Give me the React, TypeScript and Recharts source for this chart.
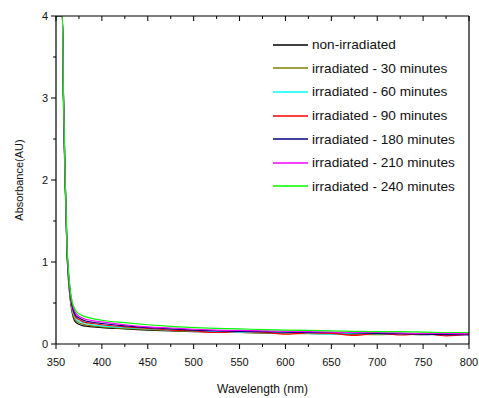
import { LineChart, Line, XAxis, YAxis } from "recharts"

const wavelength = [350, 357, 358, 360, 362, 364, 366, 368, 370, 372, 375, 380, 390, 400, 425, 450, 475, 500, 525, 550, 575, 600, 625, 650, 675, 700, 725, 750, 775, 800]

const nonIrradiated = [4, 4, 3.05, 1.95, 1.1, 0.72, 0.5, 0.36, 0.29, 0.26, 0.24, 0.22, 0.21, 0.2, 0.185, 0.17, 0.16, 0.15, 0.145, 0.14, 0.135, 0.13, 0.13, 0.125, 0.12, 0.12, 0.12, 0.115, 0.12, 0.12]
const irr30 = [4, 4, 3.1, 2.0, 1.12, 0.74, 0.52, 0.38, 0.31, 0.28, 0.26, 0.24, 0.22, 0.21, 0.19, 0.175, 0.165, 0.155, 0.15, 0.14, 0.135, 0.13, 0.125, 0.13, 0.12, 0.115, 0.12, 0.12, 0.11, 0.12]
const irr60 = [4, 4, 3.1, 2.0, 1.14, 0.76, 0.54, 0.41, 0.34, 0.31, 0.28, 0.26, 0.235, 0.22, 0.2, 0.185, 0.17, 0.16, 0.15, 0.14, 0.14, 0.135, 0.13, 0.12, 0.13, 0.125, 0.12, 0.13, 0.115, 0.12]
const irr90 = [4, 4, 3.1, 2.0, 1.15, 0.78, 0.56, 0.43, 0.36, 0.32, 0.3, 0.27, 0.25, 0.235, 0.21, 0.19, 0.17, 0.16, 0.14, 0.15, 0.145, 0.12, 0.135, 0.13, 0.105, 0.13, 0.11, 0.125, 0.1, 0.12]
const irr180 = [4, 4, 3.1, 2.0, 1.16, 0.8, 0.58, 0.45, 0.38, 0.34, 0.32, 0.29, 0.265, 0.25, 0.22, 0.2, 0.185, 0.17, 0.16, 0.155, 0.15, 0.145, 0.14, 0.14, 0.135, 0.13, 0.125, 0.12, 0.115, 0.11]
const irr210 = [4, 4, 3.12, 2.02, 1.18, 0.82, 0.6, 0.48, 0.41, 0.37, 0.34, 0.31, 0.285, 0.27, 0.235, 0.21, 0.195, 0.18, 0.17, 0.165, 0.16, 0.155, 0.15, 0.145, 0.14, 0.14, 0.135, 0.13, 0.13, 0.125]
const irr240 = [4, 4, 3.12, 2.02, 1.2, 0.84, 0.62, 0.5, 0.44, 0.4, 0.37, 0.34, 0.31, 0.29, 0.26, 0.235, 0.215, 0.2, 0.19, 0.185, 0.175, 0.17, 0.165, 0.16, 0.155, 0.15, 0.15, 0.145, 0.14, 0.14]

const seriesNames = ["non-irradiated", "irradiated - 30 minutes", "irradiated - 60 minutes", "irradiated - 90 minutes", "irradiated - 180 minutes", "irradiated - 210 minutes", "irradiated - 240 minutes"]
const seriesValues = [nonIrradiated, irr30, irr60, irr90, irr180, irr210, irr240]
const seriesColors = ["#000000", "#808000", "#00ffff", "#ff0000", "#000080", "#ff00ff", "#00ff00"]

const xTicks = [350, 375, 400, 425, 450, 475, 500, 525, 550, 575, 600, 625, 650, 675, 700, 725, 750, 775, 800]
const yTicks = [0, 0.5, 1, 1.5, 2, 2.5, 3, 3.5, 4]

const rows = wavelength.map((w, i) => {
  const row: Record<string, number> = { w }
  seriesValues.forEach((vals, s) => { row["s" + s] = vals[i] })
  return row
})

const font = "'Liberation Sans', Arial, sans-serif"

const BottomTick = ({ x, y, payload }: any) => {
  const major = payload.value % 50 === 0
  return (
    <g>
      <line x1={x} x2={x} y1={y} y2={y + (major ? 5 : 3)} stroke="#000" />
      {major && (
        <text x={x} y={y + 22} textAnchor="middle" fontSize={11} fontFamily={font} fill="#111">{payload.value}</text>
      )}
    </g>
  )
}

const TopTick = ({ x, y, payload }: any) => {
  const major = payload.value % 50 === 0
  return <line x1={x} x2={x} y1={y} y2={y + (major ? 5 : 3)} stroke="#000" />
}

const LeftTick = ({ x, y, payload }: any) => {
  const major = Number.isInteger(payload.value)
  return (
    <g>
      <line x1={x} x2={x - (major ? 5 : 3)} y1={y} y2={y} stroke="#000" />
      {major && (
        <text x={x - 8} y={y + 4} textAnchor="end" fontSize={11} fontFamily={font} fill="#111">{payload.value}</text>
      )}
    </g>
  )
}

const RightTick = ({ x, y, payload }: any) => {
  const major = Number.isInteger(payload.value)
  return <line x1={x} x2={x - (major ? 5 : 3)} y1={y} y2={y} stroke="#000" />
}

export default function App() {
  return (
    <div style={{ position: "absolute", left: 0, top: 0, width: 479, height: 398, background: "#fff" }}>
      <LineChart width={479} height={398} data={rows} margin={{ top: 0, right: 0, bottom: 0, left: 0 }}>
        <XAxis
          dataKey="w" type="number" domain={[350, 800]} ticks={xTicks} interval={0}
          height={54} tickSize={0} tickMargin={0} tickLine={false} tick={<BottomTick />}
          axisLine={{ stroke: "#000", strokeWidth: 1.2 }}
          label={{ value: "Wavelength (nm)", position: "insideBottom", offset: 5, style: { fontSize: 12, fontFamily: font, fill: "#111" } }}
        />
        <XAxis
          xAxisId="top" orientation="top" dataKey="w" type="number" domain={[350, 800]} ticks={xTicks} interval={0}
          height={16} tickSize={0} tickMargin={0} tickLine={false} tick={<TopTick />}
          axisLine={{ stroke: "#000", strokeWidth: 1.2 }}
        />
        <YAxis
          type="number" domain={[0, 4]} ticks={yTicks} interval={0} allowDataOverflow
          width={56} tickSize={0} tickMargin={0} tickLine={false} tick={<LeftTick />}
          axisLine={{ stroke: "#000", strokeWidth: 1.2 }}
          label={{ value: "Absorbance(AU)", angle: -90, position: "insideLeft", offset: 19, style: { textAnchor: "middle", fontSize: 11, fontFamily: font, fill: "#111" } }}
        />
        <YAxis
          yAxisId="right" orientation="right" type="number" domain={[0, 4]} ticks={yTicks} interval={0}
          width={10} tickSize={0} tickMargin={0} tickLine={false} tick={<RightTick />}
          axisLine={{ stroke: "#000", strokeWidth: 1.2 }}
        />
        {seriesNames.map((name, s) => (
          <Line
            key={name} name={name} dataKey={"s" + s} type="monotone" stroke={seriesColors[s]}
            strokeWidth={1.2} dot={false} isAnimationActive={false}
          />
        ))}
      </LineChart>
      <div style={{ position: "absolute", left: 273, top: 33, fontFamily: font, fontSize: 13.6, color: "#111" }}>
        {seriesNames.map((name, s) => (
          <div key={name} style={{ display: "flex", alignItems: "center", height: 23.6 }}>
            <svg width={39} height={4} style={{ display: "block" }}>
              <line x1={0} x2={35} y1={2} y2={2} stroke={seriesColors[s]} strokeWidth={1.5} />
            </svg>
            <span>{name}</span>
          </div>
        ))}
      </div>
    </div>
  )
}
